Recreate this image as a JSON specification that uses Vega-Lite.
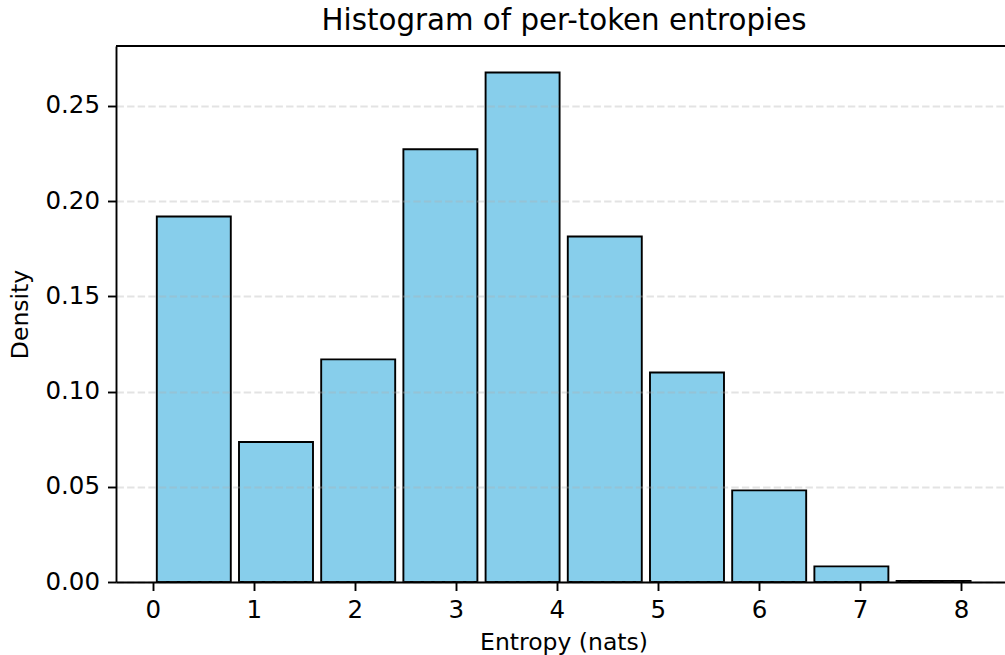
{
  "$schema": "https://vega.github.io/schema/vega-lite/v6.json",
  "width": 889,
  "height": 536,
  "autosize": {"type": "none"},
  "padding": {"left": 116, "top": 46, "right": 0, "bottom": 73},
  "title": {"text": "Histogram of per-token entropies", "font": "DejaVu Sans", "fontSize": 29.3, "fontWeight": "normal", "color": "black", "anchor": "middle", "offset": 9, "dx": 3.5},
  "config": {"view": {"stroke": null}, "font": "DejaVu Sans"},
  "layer": [
    {
      "data": {"values": [
        {"bin_start": 0.0, "bin_end": 0.8135, "density": 0.1919},
        {"bin_start": 0.8135, "bin_end": 1.627, "density": 0.0735},
        {"bin_start": 1.627, "bin_end": 2.4405, "density": 0.1169},
        {"bin_start": 2.4405, "bin_end": 3.254, "density": 0.2272},
        {"bin_start": 3.254, "bin_end": 4.0675, "density": 0.2675},
        {"bin_start": 4.0675, "bin_end": 4.881, "density": 0.1814},
        {"bin_start": 4.881, "bin_end": 5.6945, "density": 0.1100},
        {"bin_start": 5.6945, "bin_end": 6.508, "density": 0.0481},
        {"bin_start": 6.508, "bin_end": 7.3215, "density": 0.0082},
        {"bin_start": 7.3215, "bin_end": 8.135, "density": 0.0005}
      ]},
      "mark": {"type": "bar", "fill": "#87CEEB", "stroke": "black", "strokeWidth": 1.9, "xOffset": 4.1, "x2Offset": -4.1},
      "encoding": {
        "x": {
          "field": "bin_start", "type": "quantitative",
          "scale": {"domain": [-0.3632, 8.4351], "nice": false, "zero": false},
          "axis": {
            "values": [0, 1, 2, 3, 4, 5, 6, 7, 8], "format": "d", "grid": false,
            "zindex": 2,
            "domainColor": "black", "domainWidth": 1.9, "tickColor": "black", "tickWidth": 1.9, "tickSize": 8.5,
            "labelFont": "DejaVu Sans", "labelFontSize": 24.5, "labelColor": "black", "labelPadding": 8,
            "title": "Entropy (nats)", "titleFont": "DejaVu Sans", "titleFontSize": 23.5, "titleFontWeight": "normal", "titleColor": "black",
            "titleX": 447.5, "titleY": 67, "titleBaseline": "alphabetic", "titleAlign": "center"
          }
        },
        "x2": {"field": "bin_end"},
        "y": {
          "field": "density", "type": "quantitative",
          "scale": {"domain": [0, 0.2814], "nice": false},
          "axis": {
            "values": [0, 0.05, 0.1, 0.15, 0.2, 0.25], "format": ".2f",
            "grid": true, "gridColor": "#b0b0b0", "gridOpacity": 0.35, "gridDash": [7.4, 3.2], "gridWidth": 1.9,
            "zindex": 1,
            "domainColor": "black", "domainWidth": 1.9, "tickColor": "black", "tickWidth": 1.9, "tickSize": 8.5,
            "labelFont": "DejaVu Sans", "labelFontSize": 24.5, "labelColor": "black", "labelPadding": 8,
            "title": "Density", "titleFont": "DejaVu Sans", "titleFontSize": 23.5, "titleFontWeight": "normal", "titleColor": "black",
            "titleX": -88.5, "titleY": 268, "titleBaseline": "alphabetic", "titleAlign": "center", "titleAngle": -90
          }
        },
        "y2": {"datum": 0}
      }
    },
    {
      "data": {"values": [{}]},
      "mark": {"type": "rule", "stroke": "black", "strokeWidth": 1.9},
      "encoding": {"y": {"datum": 0.2814}}
    }
  ]
}
